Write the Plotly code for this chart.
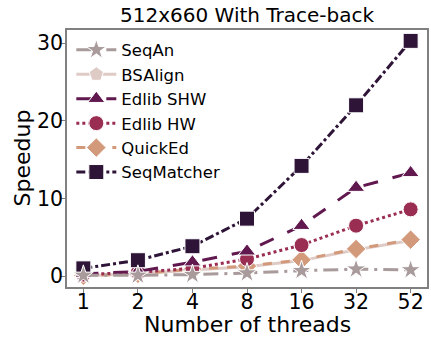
import plotly.graph_objects as go

threads = ["1", "2", "4", "8", "16", "32", "52"]

seqan = [0.1, 0.1, 0.2, 0.4, 0.7, 0.9, 0.8]
bsalign = [0.05, 0.3, 0.8, 1.2, 2.0, 3.4, 4.6]
edlib_shw = [0.3, 0.6, 1.8, 3.2, 6.5, 11.4, 13.3]
edlib_hw = [0.2, 0.5, 1.0, 2.2, 4.0, 6.5, 8.6]
quicked = [0.05, 0.3, 0.9, 1.3, 2.1, 3.5, 4.7]
seqmatcher = [1.0, 2.05, 3.85, 7.4, 14.2, 22.0, 30.3]

series = [
    # name, values, colour, dash, symbol, legend rank
    ("BSAlign", bsalign, "#dfcbc6", "solid", "pentagon", 2),
    ("QuickEd", quicked, "#d29a7b", "dash", "diamond", 5),
    ("Edlib HW", edlib_hw, "#9a2d52", "dot", "circle", 4),
    ("Edlib SHW", edlib_shw, "#60184f", "longdash", "triangle-up", 3),
    ("SeqMatcher", seqmatcher, "#2e1538", "dashdot", "square", 6),
    ("SeqAn", seqan, "#a99a9b", "longdashdot", "star", 1),
]

fig = go.Figure()
for name, vals, color, dash, symbol, rank in series:
    fig.add_trace(go.Scatter(
        x=threads, y=vals, name=name, mode="lines+markers",
        line=dict(color=color, width=3, dash=dash),
        marker=dict(symbol=symbol, size=15, color=color,
                    line=dict(color="white", width=1)),
        legendrank=rank,
    ))

tick_font = dict(family="DejaVu Sans", size=20.5, color="black")
title_font = dict(family="DejaVu Sans", size=22, color="black")
fig.update_layout(
    width=431, height=338,
    margin=dict(l=67, r=4, t=30, b=51, autoexpand=False),
    paper_bgcolor="white", plot_bgcolor="white",
    font=dict(family="DejaVu Sans", color="black"),
    showlegend=True,
    legend=dict(x=0.012, y=0.99, xanchor="left", yanchor="top",
                bgcolor="rgba(255,255,255,0)", borderwidth=0,
                font=dict(size=16.5), tracegroupgap=0, itemwidth=40),
    annotations=[
        dict(text="512x660 With Trace-back", xref="paper", yref="paper",
             x=0.5, y=1.0, yshift=1, xanchor="center", yanchor="bottom",
             showarrow=False, font=dict(size=20)),
        dict(text="Number of threads", xref="paper", yref="paper",
             x=0.5, y=0.0, yshift=-37, xanchor="center", yanchor="middle",
             showarrow=False, font=title_font),
        dict(text="Speedup", xref="paper", yref="paper", textangle=-90,
             x=0.0, y=0.5, xshift=-45, xanchor="center", yanchor="middle",
             showarrow=False, font=title_font),
    ],
)
fig.update_xaxes(
    type="category", range=[-0.3, 6.3], tickfont=tick_font, automargin=False,
    ticklabelstandoff=-8,
    showline=True, linecolor="#808080", linewidth=1.5, mirror=True,
    showgrid=False, zeroline=False, ticks="outside", ticklen=4, tickcolor="#808080",
)
fig.update_yaxes(
    range=[-1.4, 31.7], tickvals=[0, 10, 20, 30], tickfont=tick_font, automargin=False,
    ticklabelstandoff=-6,
    showline=True, linecolor="#808080", linewidth=1.5, mirror=True,
    showgrid=False, zeroline=False, ticks="outside", ticklen=4, tickcolor="#808080",
)

fig.write_html("out.html")
